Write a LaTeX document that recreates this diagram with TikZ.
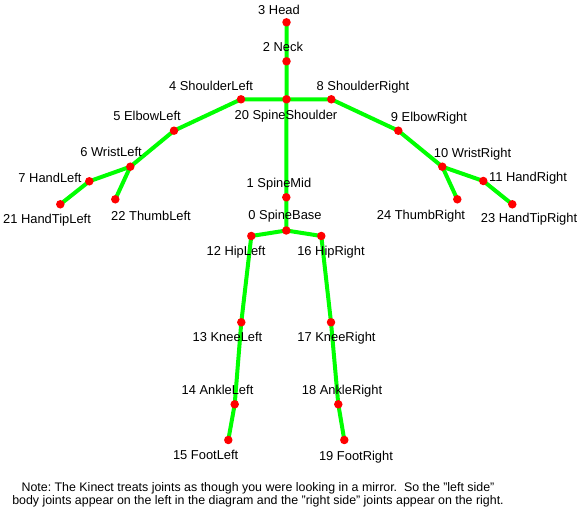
\documentclass[tikz,border=0pt]{standalone}
\usepackage{fontspec}
\setmainfont{Liberation Sans}
\newcommand\straightdq{\char"22\relax}
\begin{document}
\begin{tikzpicture}[x=1pt,y=-1pt,
  bone/.style={draw=boneGreen,line width=4pt},
  joint/.style={circle,fill=red,inner sep=0pt,minimum size=8.5pt},
  jlabel/.style={inner sep=0pt,text height=0.716em,text depth=0pt,anchor=center,
    font=\fontsize{12.9}{15}\selectfont},
  note/.style={inner sep=0pt,align=center,font=\fontsize{12.4}{13.4}\selectfont\frenchspacing}]
\definecolor{boneGreen}{RGB}{0,255,0}
\useasboundingbox[fill=white] (0,0) rectangle (582,518);

% joint positions
\coordinate (Head) at (286.5,22.3);
\coordinate (Neck) at (286.5,61.3);
\coordinate (SpineShoulder) at (286.5,99.3);
\coordinate (ShoulderLeft) at (241,99.3);
\coordinate (ShoulderRight) at (331.3,99.3);
\coordinate (ElbowLeft) at (174,130.7);
\coordinate (WristLeft) at (130.3,166.7);
\coordinate (HandLeft) at (89.3,181.3);
\coordinate (HandTipLeft) at (60.3,204.3);
\coordinate (ThumbLeft) at (115.3,199.3);
\coordinate (ElbowRight) at (398.3,130.7);
\coordinate (WristRight) at (442.3,166.7);
\coordinate (HandRight) at (483.3,181);
\coordinate (HandTipRight) at (512.3,204.3);
\coordinate (ThumbRight) at (457.3,199.3);
\coordinate (SpineMid) at (286.3,197.3);
\coordinate (SpineBase) at (286.3,230.5);
\coordinate (HipLeft) at (251.3,236);
\coordinate (HipRight) at (321.3,236);
\coordinate (KneeLeft) at (241.3,322.3);
\coordinate (KneeRight) at (331,322.3);
\coordinate (AnkleLeft) at (234.7,404.3);
\coordinate (AnkleRight) at (338.3,404.3);
\coordinate (FootLeft) at (228.3,440);
\coordinate (FootRight) at (344.3,440);

% bones
\draw[bone] (Head) -- (Neck) -- (SpineShoulder) -- (SpineMid) -- (SpineBase);
\draw[bone] (SpineShoulder) -- (ShoulderLeft) -- (ElbowLeft) -- (WristLeft) -- (HandLeft) -- (HandTipLeft);
\draw[bone] (WristLeft) -- (ThumbLeft);
\draw[bone] (SpineShoulder) -- (ShoulderRight) -- (ElbowRight) -- (WristRight) -- (HandRight) -- (HandTipRight);
\draw[bone] (WristRight) -- (ThumbRight);
\draw[bone] (SpineBase) -- (HipLeft) -- (KneeLeft) -- (AnkleLeft) -- (FootLeft);
\draw[bone] (SpineBase) -- (HipRight) -- (KneeRight) -- (AnkleRight) -- (FootRight);

% joint dots
\foreach \j in {Head,Neck,SpineShoulder,ShoulderLeft,ShoulderRight,ElbowLeft,WristLeft,
  HandLeft,HandTipLeft,ThumbLeft,ElbowRight,WristRight,HandRight,HandTipRight,ThumbRight,
  SpineMid,SpineBase,HipLeft,HipRight,KneeLeft,KneeRight,AnkleLeft,AnkleRight,FootLeft,FootRight}
  \node[joint] (dot\j) at (\j) {};

% joint labels
\node[jlabel] (lHead) at (279,10.7) {3 Head};
\node[jlabel] (lNeck) at (283,47.7) {2 Neck};
\node[jlabel] (lShoulderLeft) at (211,87) {4 ShoulderLeft};
\node[jlabel] (lShoulderRight) at (363,87) {8 ShoulderRight};
\node[jlabel] (lSpineShoulder) at (286,116) {20 SpineShoulder};
\node[jlabel] (lElbowLeft) at (147,117.3) {5 ElbowLeft};
\node[jlabel] (lWristLeft) at (111,152.7) {6 WristLeft};
\node[jlabel] (lHandLeft) at (50,178.7) {7 HandLeft};
\node[jlabel] (lHandTipLeft) at (47,220) {21 HandTipLeft};
\node[jlabel] (lThumbLeft) at (151,216.7) {22 ThumbLeft};
\node[jlabel] (lElbowRight) at (429,118.3) {9 ElbowRight};
\node[jlabel] (lWristRight) at (472.5,154.3) {10 WristRight};
\node[jlabel] (lHandRight) at (528,177.7) {11 HandRight};
\node[jlabel] (lThumbRight) at (421,215.7) {24 ThumbRight};
\node[jlabel] (lHandTipRight) at (529,219.3) {23 HandTipRight};
\node[jlabel] (lSpineMid) at (279,184) {1 SpineMid};
\node[jlabel] (lSpineBase) at (285,216) {0 SpineBase};
\node[jlabel] (lHipLeft) at (236,252.3) {12 HipLeft};
\node[jlabel] (lHipRight) at (331,252.3) {16 HipRight};
\node[jlabel] (lKneeLeft) at (227.5,338.3) {13 KneeLeft};
\node[jlabel] (lKneeRight) at (336.5,338.3) {17 KneeRight};
\node[jlabel] (lAnkleLeft) at (217.5,390.7) {14 AnkleLeft};
\node[jlabel] (lAnkleRight) at (342,390.7) {18 AnkleRight};
\node[jlabel] (lFootLeft) at (205.7,455.7) {15 FootLeft};
\node[jlabel] (lFootRight) at (356,456.7) {19 FootRight};

% footnote
\node[note] (noteText) at (258,495) {Note: The Kinect treats joints as though you were looking in a mirror.\ \ So the \straightdq left side\straightdq\\
body joints appear on the left in the diagram and the \straightdq right side\straightdq{} joints appear on the right.};
\end{tikzpicture}
\end{document}
